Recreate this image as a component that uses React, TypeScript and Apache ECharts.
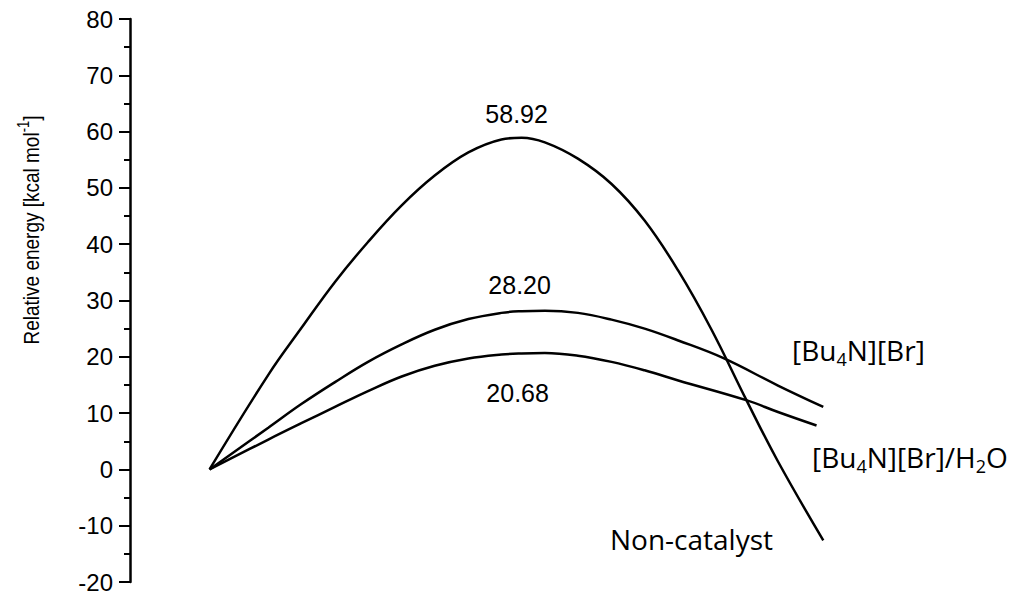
import React, { useEffect, useRef } from 'react';
import * as echarts from 'echarts';

// reaction coordinate on the hidden x axis (0 = reactant)
const nonCatalystX = [0, 0.96, 1.5, 2.05, 2.59, 3.14, 3.68, 4.23, 4.77, 5.1, 5.48, 6.02, 6.57, 7.11, 7.66, 8.2, 8.77, 9.29, 10.03];
const nonCatalyst = [0, 16.8, 25.1, 33.3, 40.4, 46.9, 52.2, 56.3, 58.6, 58.92, 58.1, 55.2, 50.7, 44.2, 35.3, 24.9, 12.4, 1.4, -12.6];

const bu4nBrX = [0, 0.96, 1.5, 2.05, 2.59, 3.14, 3.68, 4.23, 4.77, 5.1, 5.48, 6.02, 6.57, 7.11, 7.66, 8.39, 9.29, 10.03];
const bu4nBr = [0, 7.4, 11.6, 15.5, 19.1, 22.2, 24.8, 26.7, 27.8, 28.1, 28.2, 27.8, 26.6, 25.0, 22.9, 19.8, 14.9, 11.1];

const bu4nBrH2oX = [0, 0.96, 1.5, 2.05, 2.59, 3.14, 3.68, 4.23, 4.77, 5.1, 5.48, 6.02, 6.57, 7.11, 7.66, 8.77, 9.29, 9.92];
const bu4nBrH2o = [0, 5.3, 8.2, 11.1, 13.9, 16.5, 18.4, 19.7, 20.4, 20.6, 20.68, 20.2, 19.1, 17.6, 15.8, 12.3, 10.2, 7.8];

// barrier heights written over the curves
const barrierX = [5.1, 5.1, 5.1];
const barrierY = [58.92, 28.2, 20.68];

const yTicks = { min: -20, max: 80, interval: 10 };

const FONT = '"Liberation Sans", Arial, sans-serif';
const NOTE_FONT = '"Open Sans", "Noto Sans", sans-serif';

const toPairs = (xs: number[], ys: number[]) => xs.map((x, i) => [x, ys[i]]);

const barrierMark = (i: number, position: string, offset: number[]) => ({
  symbol: 'circle',
  symbolSize: 0,
  itemStyle: { color: 'transparent' },
  emphasis: { disabled: true },
  data: [
    {
      coord: [barrierX[i], barrierY[i]],
      value: barrierY[i].toFixed(2),
      label: {
        show: true,
        position,
        offset,
        formatter: '{c}',
        fontFamily: FONT,
        fontSize: 25,
        color: '#000',
      },
    },
  ],
});

const App: React.FC = () => {
  const chartRef = useRef<HTMLDivElement>(null);

  useEffect(() => {
    if (!chartRef.current) return;
    const chart = echarts.init(chartRef.current, null, { renderer: 'svg' });

    const baseSeries = {
      type: 'line',
      smooth: 0.4,
      showSymbol: false,
      lineStyle: { color: '#000', width: 2.5 },
      itemStyle: { color: '#000' },
      emphasis: { disabled: true },
    };

    const subRich = {
      a: { fontFamily: NOTE_FONT, fontSize: 28, lineHeight: 36, color: '#000' },
      b: { fontFamily: NOTE_FONT, fontSize: 18, lineHeight: 18, verticalAlign: 'bottom', color: '#000' },
    };

    chart.setOption({
      animation: false,
      grid: { left: 130, right: 19, top: 19, bottom: 21 },
      xAxis: { type: 'value', min: -1.3, max: 13, show: false },
      yAxis: {
        type: 'value',
        min: yTicks.min,
        max: yTicks.max,
        interval: yTicks.interval,
        axisLine: { show: true, onZero: false, lineStyle: { color: '#000', width: 2.5 } },
        axisTick: { show: true, length: 11, lineStyle: { color: '#000', width: 2 } },
        minorTick: { show: true, splitNumber: 2, length: 6, lineStyle: { color: '#000', width: 2 } },
        splitLine: { show: false },
        axisLabel: { fontFamily: FONT, fontSize: 24, color: '#000', margin: 17 },
      },
      series: [
        {
          ...baseSeries,
          name: 'Non-catalyst',
          data: toPairs(nonCatalystX, nonCatalyst),
          markPoint: barrierMark(0, 'top', [-5, -6]),
        },
        {
          ...baseSeries,
          name: '[Bu4N][Br]',
          data: toPairs(bu4nBrX, bu4nBr),
          markPoint: barrierMark(1, 'top', [-2, -8]),
        },
        {
          ...baseSeries,
          name: '[Bu4N][Br]/H2O',
          data: toPairs(bu4nBrH2oX, bu4nBrH2o),
          markPoint: barrierMark(2, 'bottom', [-4, 23]),
        },
      ],
      graphic: [
        {
          type: 'text',
          x: 31,
          y: 230,
          rotation: Math.PI / 2,
          scaleY: 1.2,
          style: {
            text: '{a|Relative energy [kcal mol}{s|-1}{a|]}',
            align: 'center',
            verticalAlign: 'middle',
            rich: {
              a: { fontFamily: FONT, fontSize: 19, lineHeight: 26, color: '#000' },
              s: { fontFamily: FONT, fontSize: 13, lineHeight: 13, verticalAlign: 'top', color: '#000' },
            },
          },
        },
        {
          type: 'text',
          x: 792,
          y: 350,
          style: {
            text: '{a|[Bu}{b|4}{a|N][Br]}',
            verticalAlign: 'middle',
            rich: subRich,
          },
        },
        {
          type: 'text',
          x: 812,
          y: 457,
          style: {
            text: '{a|[Bu}{b|4}{a|N][Br]/H}{b|2}{a|O}',
            verticalAlign: 'middle',
            rich: subRich,
          },
        },
        {
          type: 'text',
          x: 610,
          y: 539,
          style: {
            text: 'Non-catalyst',
            verticalAlign: 'middle',
            fontFamily: NOTE_FONT,
            fontSize: 28,
            fill: '#000',
          },
        },
      ],
    });

    return () => {
      chart.dispose();
    };
  }, []);

  return (
    <div
      ref={chartRef}
      style={{ position: 'fixed', left: 0, top: 0, width: 1024, height: 603, background: '#fff' }}
    />
  );
};

export default App;
